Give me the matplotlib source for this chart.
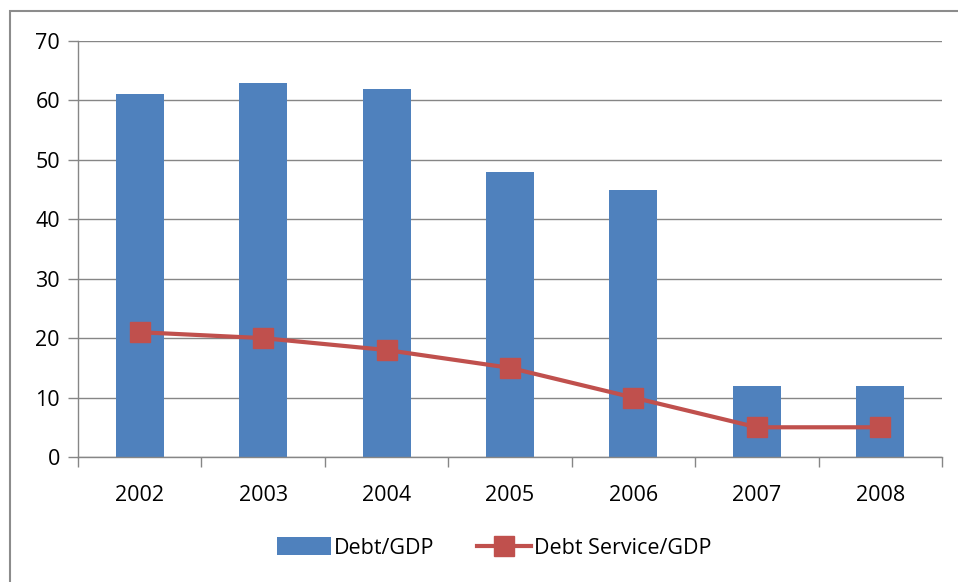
import matplotlib
matplotlib.use("Agg")
import matplotlib.pyplot as plt
from matplotlib.patches import Rectangle
import numpy as np

years = ["2002", "2003", "2004", "2005", "2006", "2007", "2008"]
debt_gdp = [61, 63, 62, 48, 45, 12, 12]
debt_service_gdp = [21, 20, 18, 15, 10, 5, 5]

plt.rcParams['font.family'] = ['Open Sans', 'DejaVu Sans']

fig = plt.figure(figsize=(9.58, 5.82), dpi=100)
ax = fig.add_axes([78/958, 1-457/582, 864/958, 416/582])

# figure border
fig.patches.append(Rectangle((10/958, -0.01), 1.0, 1-11/582 + 0.01, transform=fig.transFigure,
                             fill=False, edgecolor='#8c8c8c', linewidth=1.5))

x = np.arange(len(years))
bars = ax.bar(x, debt_gdp, width=0.39, color='#4F81BD', label='Debt/GDP', zorder=2)
line, = ax.plot(x, debt_service_gdp, color='#C0504D', linewidth=3, marker='s', markersize=14,
                markerfacecolor='#C0504D', markeredgecolor='#C0504D', label='Debt Service/GDP', zorder=3)

ax.set_xlim(-0.5, len(years) - 0.5)
ax.set_ylim(0, 70)
ax.set_yticks(range(0, 71, 10))
ax.yaxis.grid(True, color='#868686', linewidth=1)
ax.set_axisbelow(True)

ax.set_xticks(x)
ax.set_xticklabels(years, fontsize=15.5)
ax.tick_params(axis='x', length=0, pad=20)
ax.set_xticks(np.arange(-0.5, len(years), 1), minor=True)
ax.tick_params(axis='x', which='minor', length=7, color='#868686', width=1)
ax.tick_params(axis='y', labelsize=15.5, length=7, color='#868686', width=1, pad=6)

for s in ['top', 'right']:
    ax.spines[s].set_visible(False)
for s in ['left', 'bottom']:
    ax.spines[s].set_color('#868686')
    ax.spines[s].set_linewidth(1)

leg = fig.legend(handles=[bars, line], labels=['Debt/GDP', 'Debt Service/GDP'],
                 loc='center', bbox_to_anchor=(0.516, 1-548/582), ncol=2, frameon=False,
                 fontsize=15.5, handlelength=2.5, handleheight=0.9, columnspacing=2.0, handletextpad=0.15)

fig.savefig('out.png', dpi=100)
